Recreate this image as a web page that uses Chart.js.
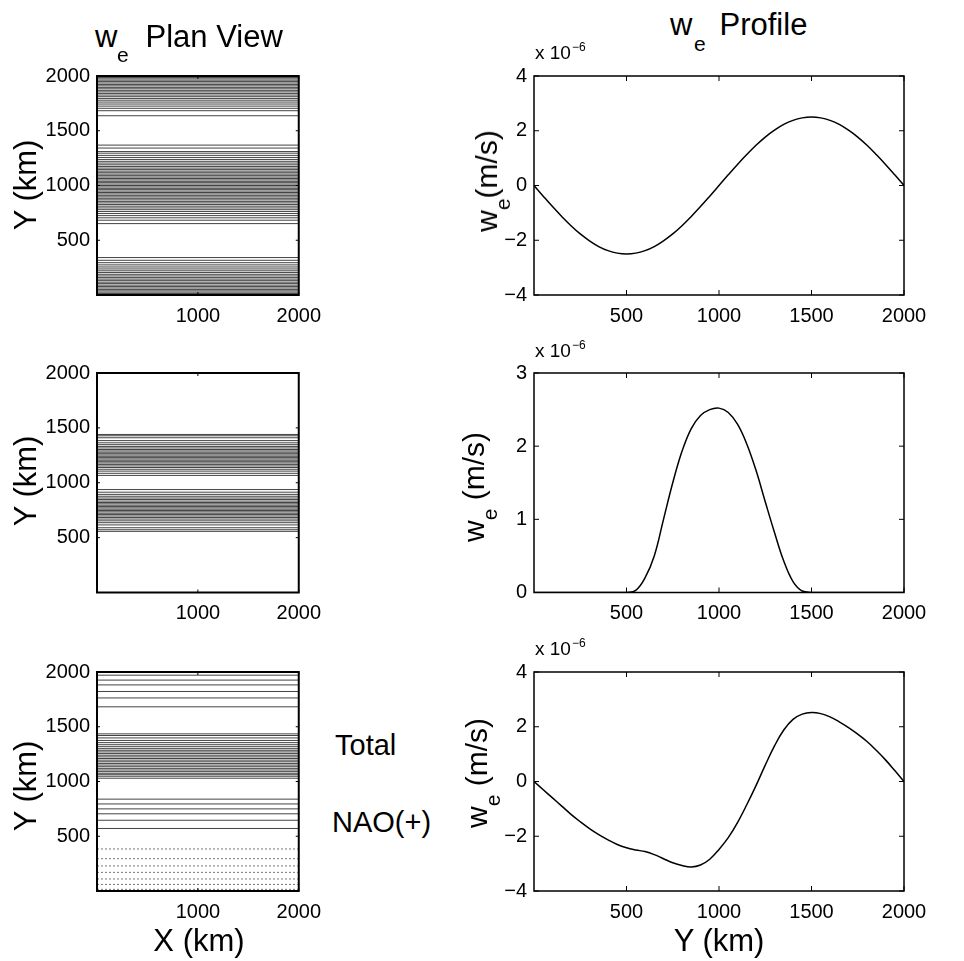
<!DOCTYPE html>
<html>
<head>
<meta charset="utf-8">
<script src="https://cdn.jsdelivr.net/npm/chart.js@4.4.1/dist/chart.umd.min.js"></script>
<style>
  html, body { margin:0; padding:0; background:#fff; }
  body { width:964px; height:961px; position:relative; overflow:hidden; font-family:"Liberation Sans", Arial, sans-serif; }
  canvas { position:absolute; }
  .t { position:absolute; line-height:1; white-space:nowrap; color:#000; z-index:2; }
  .rot { transform-origin:0 0; transform:rotate(-90deg) translate(-50%,0); }
  .ctr { transform:translateX(-50%); }
  .sub { font-size:21px; position:relative; top:13px; }
</style>
</head>
<body>
<canvas id="plan1"></canvas>
<canvas id="plan2"></canvas>
<canvas id="plan3"></canvas>
<canvas id="prof1"></canvas>
<canvas id="prof2"></canvas>
<canvas id="prof3"></canvas>

<!-- titles -->
<div class="t" style="left:95px;top:21px;font-size:31px">w</div>
<div class="t" style="left:117px;top:44px;font-size:21px">e</div>
<div class="t" style="left:145.5px;top:21px;font-size:31px">Plan View</div>
<div class="t" style="left:670px;top:9px;font-size:31px">w</div>
<div class="t" style="left:694px;top:33px;font-size:21px">e</div>
<div class="t" style="left:719.5px;top:9px;font-size:31px">Profile</div>

<!-- y axis titles -->
<div class="t rot" style="left:10px;top:185px;font-size:31px">Y (km)</div>
<div class="t rot" style="left:10px;top:481px;font-size:31px">Y (km)</div>
<div class="t rot" style="left:10px;top:786px;font-size:31px">Y (km)</div>
<div class="t rot" style="left:472px;top:181px;font-size:30px">w<span class="sub">e</span>(m/s)</div>
<div class="t rot" style="left:459px;top:487px;font-size:30px">w<span class="sub">e</span> (m/s)</div>
<div class="t rot" style="left:462px;top:773px;font-size:30px">w<span class="sub">e</span> (m/s)</div>

<!-- x axis titles -->
<div class="t ctr" style="left:199px;top:925px;font-size:31px">X (km)</div>
<div class="t ctr" style="left:719px;top:925px;font-size:31px">Y (km)</div>

<!-- exponent labels -->
<div class="t" style="left:535px;top:43px;font-size:19px">x 10</div>
<div class="t" style="left:572px;top:41px;font-size:12px">&minus;6</div>
<div class="t" style="left:535px;top:340.5px;font-size:19px">x 10</div>
<div class="t" style="left:572px;top:338.5px;font-size:12px">&minus;6</div>
<div class="t" style="left:535px;top:639px;font-size:19px">x 10</div>
<div class="t" style="left:572px;top:637px;font-size:12px">&minus;6</div>

<!-- side notes -->
<div class="t" style="left:335px;top:730.5px;font-size:29px">Total</div>
<div class="t" style="left:332px;top:807.5px;font-size:29px">NAO(+)</div>

<script>
// ---- data ----
// distance across the basin (km), sampled every 50 km
const Y_KM = [0,50,100,150,200,250,300,350,400,450,500,550,600,650,700,750,800,850,900,950,1000,
              1050,1100,1150,1200,1250,1300,1350,1400,1450,1500,1550,1600,1650,1700,1750,1800,1850,1900,1950,2000];

// Ekman pumping profiles (x 1e-6 m/s)
const W_TOP = [0,-0.39,-0.77,-1.13,-1.47,-1.77,-2.02,-2.23,-2.38,-2.47,-2.5,-2.47,-2.38,-2.23,-2.02,-1.77,-1.47,-1.13,-0.77,-0.39,0,
               0.39,0.77,1.13,1.47,1.77,2.02,2.23,2.38,2.47,2.5,2.47,2.38,2.23,2.02,1.77,1.47,1.13,0.77,0.39,0];
const W_NAO = [0,0,0,0,0,0,0,0,0,0,0,0.03,0.2,0.5,1.0,1.5,1.93,2.24,2.42,2.5,2.52,
               2.46,2.3,2.03,1.67,1.24,0.82,0.43,0.15,0.02,0,0,0,0,0,0,0,0,0,0,0];
const W_TOTAL = [0,-0.3,-0.6,-0.9,-1.2,-1.47,-1.72,-1.94,-2.13,-2.3,-2.42,-2.5,-2.56,-2.67,-2.82,-2.97,-3.07,-3.12,-3.05,-2.84,-2.48,
                 -2.05,-1.5,-0.85,-0.15,0.6,1.3,1.88,2.27,2.46,2.52,2.48,2.36,2.18,1.97,1.73,1.46,1.14,0.79,0.4,0];

// contour lines seen in the plan views (Y position, km)
const PLAN1_LINES = [13,26,38,51,64,77,90,104,117,131,145,159,174,189,205,221,238,256,275,295,317,342,
  652,683,705,725,744,762,779,795,811,826,841,855,869,883,896,910,923,936,949,962,974,987,1000,
  1013,1026,1038,1051,1064,1077,1090,1104,1117,1131,1145,1159,1174,1189,1205,1221,1238,1256,1275,1295,1310,1342,1369,
  1637,1683,1705,1725,1744,1762,1779,1795,1811,1826,1841,1855,1869,1883,1896,1910,1923,1936,1949,1962,1974,1987];
const PLAN2_LINES = [557,572,590,616,636,653,669,683,697,710,722,735,747,759,771,783,795,808,820,833,847,861,877,894,914,938,
  1067,1086,1106,1123,1139,1153,1167,1180,1192,1205,1217,1229,1241,1253,1265,1278,1290,1303,1317,1331,1347,1364,1384,1410,1428,1440];
const PLAN3_LINES = [571,646,705,750,795,839,
  1030,1048,1062,1075,1090,1105,1120,1135,1150,1165,1180,1195,1210,1225,1240,1255,1270,1285,1300,1318,1336,1355,1375,1398,1420,1435,
  1682,1763,1822,1882,1926,1971];
const PLAN3_FAINT = [15,60,110,170,229,295,384];

// tick labels
const PLAN_X_TICKS = [1000,2000];
const PLAN_Y_TICKS = [500,1000,1500,2000];
const PROF_X_TICKS = [500,1000,1500,2000];
const PROF1_Y_TICKS = [-4,-2,0,2,4];
const PROF2_Y_TICKS = [0,1,2,3];
const PROF3_Y_TICKS = [-4,-2,0,2,4];

// ---- drawing ----
const TICK_FONT = { family:'"Liberation Sans", Arial, sans-serif', size:20 };
const fmt = v => v < 0 ? '\u2212' + Math.abs(v) : String(v);

const framePlugin = {
  id:'frame',
  afterDatasetsDraw(chart, args, o){
    const { ctx, chartArea:a, scales:{ x, y } } = chart;
    const tl = o.tick || 5;
    ctx.save();
    ctx.strokeStyle = '#000';
    ctx.lineWidth = 1;
    ctx.beginPath();
    x.ticks.forEach(t => { const p = x.getPixelForValue(t.value);
      ctx.moveTo(p, a.bottom); ctx.lineTo(p, a.bottom - tl); ctx.moveTo(p, a.top); ctx.lineTo(p, a.top + tl); });
    y.ticks.forEach(t => { const p = y.getPixelForValue(t.value);
      ctx.moveTo(a.left, p); ctx.lineTo(a.left + tl, p); ctx.moveTo(a.right, p); ctx.lineTo(a.right - tl, p); });
    ctx.stroke();
    ctx.lineWidth = o.width || 1.5;
    ctx.strokeRect(a.left, a.top, a.right - a.left, a.bottom - a.top);
    ctx.restore();
  }
};

function levelLines(ys){
  const d = [];
  ys.forEach(y => { d.push({ x:0, y }, { x:2000, y }, { x:2000, y:null }); });
  return d;
}

// plot rect {l,t,r,b} in page pixels; canvas spans from cx to cx+cw
function makeChart(id, rect, cx, cw, yRange, xTicks, yTicks, datasets, frame){
  const cy = Math.floor(rect.t - 14);
  const ch = Math.ceil(rect.b + 42) - cy;
  const el = document.getElementById(id);
  el.width = cw; el.height = ch;
  el.style.left = cx + 'px'; el.style.top = cy + 'px';
  el.style.width = cw + 'px'; el.style.height = ch + 'px';
  const yAxisW = rect.l - cx, xAxisH = cy + ch - rect.b;
  const axisCommon = {
    type:'linear',
    grid:{ display:false, drawTicks:false },
    border:{ display:false }
  };
  return new Chart(el, {
    type:'line',
    data:{ datasets },
    plugins:[framePlugin],
    options:{
      responsive:false, animation:false, events:[],
      layout:{ padding:{ left:0, top:rect.t - cy, right:cx + cw - rect.r, bottom:0 } },
      plugins:{ legend:{ display:false }, tooltip:{ enabled:false }, frame },
      elements:{ point:{ radius:0 } },
      scales:{
        x:{ ...axisCommon, min:0, max:2000,
            afterBuildTicks:s => { s.ticks = xTicks.map(v => ({ value:v })); },
            afterFit:s => { s.height = xAxisH; },
            ticks:{ font:TICK_FONT, color:'#000', padding:9, maxRotation:0, autoSkip:false, callback:fmt } },
        y:{ ...axisCommon, min:yRange[0], max:yRange[1],
            afterBuildTicks:s => { s.ticks = yTicks.map(v => ({ value:v })); },
            afterFit:s => { s.width = yAxisW; },
            ticks:{ font:TICK_FONT, color:'#000', padding:7, autoSkip:false, callback:fmt } }
      }
    }
  });
}

const planLine = data => ({ data, borderColor:'#444', borderWidth:1, spanGaps:false, tension:0 });
const profLine = vals => ({ data:Y_KM.map((y, i) => ({ x:y, y:vals[i] })), borderColor:'#000', borderWidth:1.5, tension:0.4 });

const ROWS = [ { t:71, b:295 }, { t:368.5, b:592.5 }, { t:667, b:891 } ];
const PLAN_L = 97, PLAN_R = 301, PROF_L = 534, PROF_R = 904;

makeChart('plan1', { l:PLAN_L, r:PLAN_R, ...ROWS[0] }, 0, 330, [0,2000], PLAN_X_TICKS, PLAN_Y_TICKS,
  [ planLine(levelLines(PLAN1_LINES)) ], { width:2, tick:3 });
makeChart('plan2', { l:PLAN_L, r:PLAN_R, ...ROWS[1] }, 0, 330, [0,2000], PLAN_X_TICKS, PLAN_Y_TICKS,
  [ planLine(levelLines(PLAN2_LINES)) ], { width:2, tick:3 });
makeChart('plan3', { l:PLAN_L, r:PLAN_R, ...ROWS[2] }, 0, 330, [0,2000], PLAN_X_TICKS, PLAN_Y_TICKS,
  [ planLine(levelLines(PLAN3_LINES)),
    { data:levelLines(PLAN3_FAINT), borderColor:'#777', borderWidth:1, borderDash:[2,2], spanGaps:false } ], { width:2, tick:3 });

makeChart('prof1', { l:PROF_L, r:PROF_R, ...ROWS[0] }, 440, 524, [-4,4], PROF_X_TICKS, PROF1_Y_TICKS,
  [ profLine(W_TOP) ], { width:1.5, tick:5 });
makeChart('prof2', { l:PROF_L, r:PROF_R, ...ROWS[1] }, 440, 524, [0,3], PROF_X_TICKS, PROF2_Y_TICKS,
  [ profLine(W_NAO) ], { width:1.5, tick:5 });
makeChart('prof3', { l:PROF_L, r:PROF_R, ...ROWS[2] }, 440, 524, [-4,4], PROF_X_TICKS, PROF3_Y_TICKS,
  [ profLine(W_TOTAL) ], { width:1.5, tick:5 });
</script>
</body>
</html>
